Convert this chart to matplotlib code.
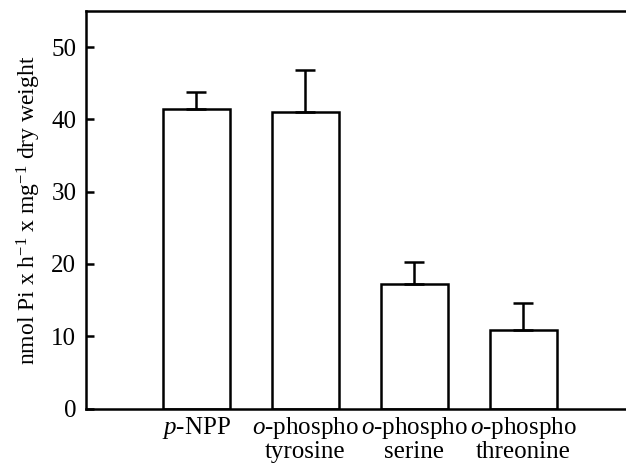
import matplotlib
matplotlib.use("Agg")
import matplotlib.pyplot as plt

categories = ["$p$-NPP", "$o$-phospho\ntyrosine", "$o$-phospho\nserine", "$o$-phospho\nthreonine"]
values = [41.5, 41.0, 17.2, 10.9]
errors_up = [2.3, 5.9, 3.1, 3.65]
yticks = [0, 10, 20, 30, 40, 50]

plt.rcParams['font.family'] = ['Liberation Serif', 'DejaVu Serif']
plt.rcParams['mathtext.fontset'] = 'custom'
plt.rcParams['mathtext.rm'] = 'Liberation Serif'
plt.rcParams['mathtext.it'] = 'Liberation Serif:italic'
plt.rcParams['mathtext.bf'] = 'Liberation Serif:bold'

fig = plt.figure(figsize=(6.26, 4.63), dpi=100)
ax = fig.add_axes([86/626, (463-408.5)/463, 1 - 86/626 + 0.01, (408.5-11)/463])

x = list(range(len(values)))
ax.bar(x, values, width=0.615, color='white', edgecolor='black', linewidth=1.8, zorder=2)
ax.errorbar(x, values, yerr=[[0]*len(values), errors_up], fmt='none', ecolor='black',
            elinewidth=1.8, capsize=7, capthick=1.8, zorder=3)

ax.set_xlim(-1.01, 4.0)
ax.set_ylim(0, 55)
ax.set_yticks(yticks)
ax.set_xticks(x)
ax.set_xticklabels(categories, fontsize=18, linespacing=0.95)
ax.tick_params(axis='x', length=0, pad=5)
ax.tick_params(axis='y', direction='in', length=6, width=1.8, labelsize=18, pad=7)
for s in ['left', 'top', 'bottom']:
    ax.spines[s].set_linewidth(1.8)
ax.spines['right'].set_visible(False)
ax.set_ylabel("nmol Pi x h$^{\\mathrm{-1}}$ x mg$^{\\mathrm{-1}}$ dry weight", fontsize=17, labelpad=6)

fig.savefig("out.png", dpi=100)
